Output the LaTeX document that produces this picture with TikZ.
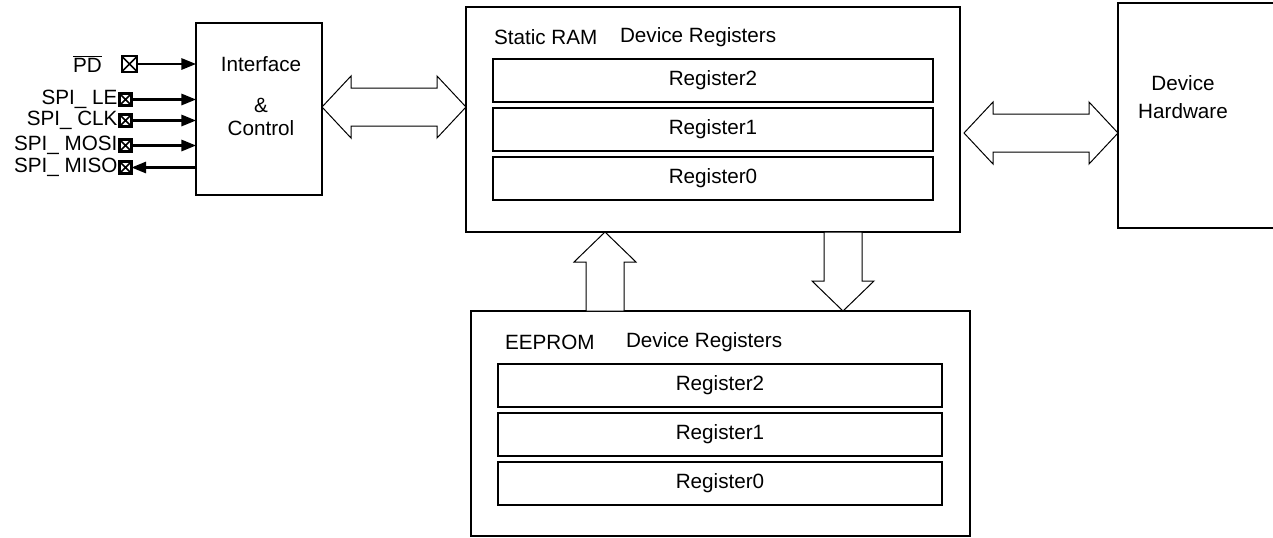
\documentclass[tikz,border=0pt]{standalone}
\usepackage{fontspec}
\setmainfont{Liberation Sans}
\usetikzlibrary{positioning, calc, arrows.meta}
\tikzset{
x=0.75pt, y=-0.75pt, % one unit is one pixel of the layout, y runs down
every node/.style={font=\fontsize{15.5}{17.5}\selectfont, inner sep=0pt, outer sep=0pt},
block/.style={draw, line width=1pt, anchor=north west}, % memory boxes
heavy/.style={block, line width=1.5pt}, % interface and hardware boxes
regbox/.style={draw, line width=1.1pt, anchor=north west, minimum width=330pt, minimum height=32.25pt},
iopad/.style={draw, line width=1.6pt, minimum size=9pt,
  path picture={\draw[line width=1.1pt] (path picture bounding box.north west) -- (path picture bounding box.south east)
  (path picture bounding box.south west) -- (path picture bounding box.north east);}},
sig/.style={line width=1.6pt, -{Triangle[length=11pt, width=8.5pt]}}, % pin lines
bus/.style={draw, line width=0.75pt, fill=white, line join=miter}, % hollow bus arrows
}
% hollow double arrow: left tip, right tip
\newcommand{\hbus}[2]{\path[bus] (#1) -- ++(29,-31) -- ++(0,12) -- ($(#2)+(-29,-19)$) -- ++(0,-12) -- (#2)
  -- ++(-29,31) -- ++(0,-12) -- ($(#1)+(29,19)$) -- ++(0,12) -- cycle;}
% hollow arrow up: tip, tail
\newcommand{\upbus}[2]{\path[bus] (#1) -- ++(31,30) -- ++(-12,0) -- ($(#2)+(19,0)$) -- ($(#2)+(-19,0)$)
  -- ($(#1)+(-19,30)$) -- ++(-12,0) -- cycle;}
% hollow arrow down: tail, tip
\newcommand{\downbus}[2]{\path[bus] ($(#1)+(-19,0)$) -- ($(#1)+(19,0)$) -- ($(#2)+(19,-30)$) -- ++(12,0)
  -- (#2) -- ++(-31,-30) -- ++(12,0) -- cycle;}

\begin{document}
\begin{tikzpicture}
\useasboundingbox (0,0) rectangle (1273,537);

% blocks
\node[heavy, minimum width=94.5pt, minimum height=129pt] (iface) at (196,23) {};
\node[align=center] (ifacetxt) at (261,96) {Interface\\[13pt]\&\\Control};
\node[block, minimum width=370.5pt, minimum height=168.75pt] (ram) at (466,7) {};
\node[block, minimum width=374.25pt, minimum height=168.75pt] (eeprom) at (471,311) {};
\node[heavy, minimum width=135pt, minimum height=168.75pt] (hw) at (1118,3) {};
\node[align=center] (hwtxt) at (1183,97) {Device\\[3pt]Hardware};

% static RAM
\node[anchor=west] (ramname) at (494,37) {Static RAM};
\node[anchor=west] (ramregs) at (620,37) {Device Registers};
\node[regbox] (ramr2) at (493,59) {Register2};
\node[regbox] (ramr1) at (493,108) {Register1};
\node[regbox] (ramr0) at (493,157) {Register0};

% EEPROM
\node[anchor=west] (eename) at (505,342) {EEPROM};
\node[anchor=west] (eeregs) at (626,342) {Device Registers};
\node[regbox, minimum width=333pt] (eer2) at (498,364) {Register2};
\node[regbox, minimum width=333pt] (eer1) at (498,413) {Register1};
\node[regbox, minimum width=333pt] (eer0) at (498,462) {Register0};

% pins
\node[iopad, minimum size=11.5pt] (pd) at (129.5,64) {};
\node[iopad] (le) at (125.5,99.5) {};
\node[iopad] (clk) at (125.5,120.5) {};
\node[iopad] (mosi) at (125.5,145.5) {};
\node[iopad] (miso) at (125.5,167.5) {};
\node[left=15pt of pd] (pdlbl) {$\overline{\mbox{PD}}$};
\node[left=1.5pt of le] (lelbl) {SPI\_ LE};
\node[left=1.5pt of clk] (clklbl) {SPI\_ CLK};
\node[left=1.5pt of mosi] (mosilbl) {SPI\_ MOSI};
\node[left=1.5pt of miso] (misolbl) {SPI\_ MISO};

\draw[sig] (pd.east) -- (pd.east -| iface.west);
\draw[sig] (le.east) -- (le.east -| iface.west);
\draw[sig] (clk.east) -- (clk.east -| iface.west);
\draw[sig] (mosi.east) -- (mosi.east -| iface.west);
\draw[sig] (miso.east -| iface.west) -- (miso.east);

% buses
\coordinate (lbusL) at ($(iface.east)+(0,-2)$);
\coordinate (lbusR) at (lbusL -| ram.west);
\hbus{lbusL}{lbusR}
\coordinate (rbusL) at ($(ram.east)+(4,13.5)$);
\coordinate (rbusR) at (rbusL -| hw.west);
\hbus{rbusL}{rbusR}
\coordinate (upT) at ($(ram.south west)+(139,0)$);
\coordinate (upB) at (upT |- eeprom.north);
\upbus{upT}{upB}
\coordinate (dnT) at ($(ram.south west)+(377,0)$);
\coordinate (dnB) at (dnT |- eeprom.north);
\downbus{dnT}{dnB}
\end{tikzpicture}
\end{document}
